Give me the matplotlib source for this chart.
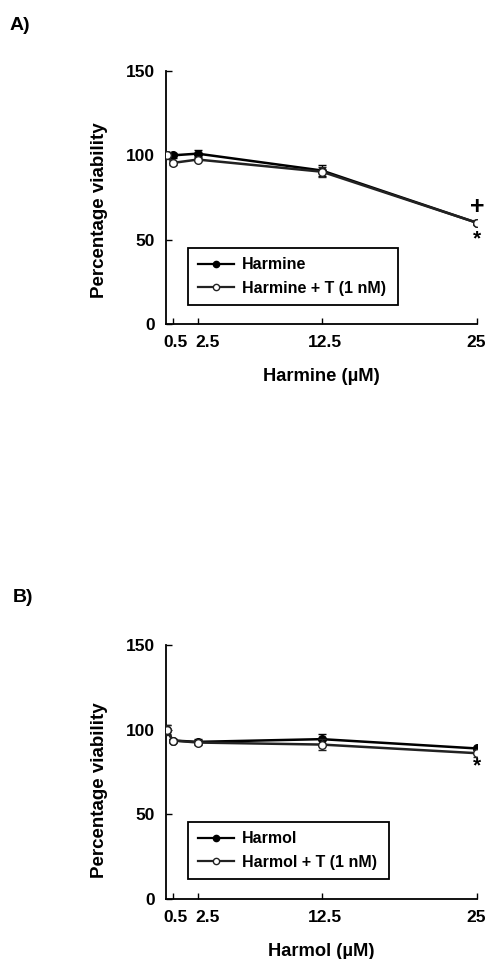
import matplotlib
matplotlib.use("Agg")
import matplotlib.pyplot as plt
from matplotlib.lines import Line2D
from matplotlib.transforms import ScaledTranslation

plt.rcParams['font.family'] = ['Liberation Sans', 'DejaVu Sans']
plt.rcParams['font.weight'] = 'bold'

conc = [0, 0.5, 2.5, 12.5, 25]
xticks = [0.5, 2.5, 12.5, 25]
xticklabels = ["0.5", "2.5", "12.5", "25"]
yticks = [0, 50, 100, 150]

harmine = [100, 100, 101, 91, 60]
harmine_err = [1.5, 1.5, 2.0, 3.0, 1.0]
harmine_t = [100, 95.5, 97.5, 90.3, 60]
harmine_t_err = [2.0, 1.0, 1.0, 3.0, 1.5]

harmol = [100, 93.6, 92.8, 94.4, 88.9]
harmol_err = [2.5, 1.0, 1.5, 3.0, 1.0]
harmol_t = [100, 93.6, 92.4, 91.2, 86.1]
harmol_t_err = [3.0, 1.0, 1.5, 3.0, 2.0]

W, H = 488, 959
fig = plt.figure(figsize=(W / 100, H / 100), dpi=100)
label_shift_px = [3, 10, 3, -1]

def make_ax(left, right, top, bottom):
    return fig.add_axes([left / W, 1 - bottom / H, (right - left) / W, (bottom - top) / H])

def panel(ax, y1, e1, y2, e2, name1, name2, xlabel, legend_box, marks, ylab_y):
    ax.errorbar(conc, y1, yerr=e1, color='black', marker='o', ms=5.5, mfc='black',
                mec='black', lw=1.8, capsize=3, elinewidth=1, zorder=3)
    ax.errorbar(conc, y2, yerr=e2, color='#222222', marker='o', ms=5.5, mfc='white',
                mec='#222222', lw=1.8, capsize=3, elinewidth=1, zorder=4)
    ax.set_xlim(-0.05, 25)
    ax.set_ylim(0, 150)
    ax.set_xticks(xticks)
    ax.set_xticklabels(xticklabels)
    ax.set_yticks(yticks)
    ax.tick_params(direction='in', length=4, width=1, labelsize=12.5, pad=8)
    for lab in ax.get_xticklabels() + ax.get_yticklabels():
        lab.set_fontweight('bold')
    for lab, dx in zip(ax.get_xticklabels(), label_shift_px):
        lab.set_transform(lab.get_transform() + ScaledTranslation(dx / 100, 0, fig.dpi_scale_trans))
    for s in ['top', 'right']:
        ax.spines[s].set_visible(False)
    for s in ['left', 'bottom']:
        ax.spines[s].set_linewidth(1.3)
    ax.set_ylabel('Percentage viability', fontsize=13.5, fontweight='bold')
    ax.yaxis.set_label_coords((108 - 166) / 311, ylab_y)
    ax.set_xlabel(xlabel, fontsize=13.2, fontweight='bold', labelpad=13)
    handles = [
        Line2D([], [], color='black', marker='o', ms=4.5, mfc='black', mec='black', lw=1.6),
        Line2D([], [], color='#222222', marker='o', ms=4.5, mfc='white', mec='#222222', lw=1.6),
    ]
    leg = ax.legend(handles, [name1, name2], loc='center left', bbox_to_anchor=legend_box,
                    mode='expand', fancybox=False, edgecolor='black', framealpha=1,
                    prop={'weight': 'bold', 'size': 11.5}, handlelength=2.3,
                    handletextpad=0.5, borderaxespad=0, borderpad=0.6, labelspacing=0.55)
    leg.get_frame().set_linewidth(1.3)
    for txt, yv, fs in marks:
        ax.text(25, yv, txt, ha='center', va='center', fontsize=fs, fontweight='bold')

axA = make_ax(166, 477, 71, 324)
bA = ((188 - 166) / 311, (324 - 307) / 253, (398 - 188) / 311, (307 - 246) / 253)
panel(axA, harmine, harmine_err, harmine_t, harmine_t_err, 'Harmine', 'Harmine + T (1 nM)',
      'Harmine (\u00b5M)', bA, [('+', 69.5, 18), ('*', 50.5, 15)], (324 - 210) / 253)

axB = make_ax(166, 477, 645, 899)
bB = ((188 - 166) / 311, (899 - 882) / 254, (389 - 188) / 311, (882 - 819) / 254)
panel(axB, harmol, harmol_err, harmol_t, harmol_t_err, 'Harmol', 'Harmol + T (1 nM)',
      'Harmol (\u00b5M)', bB, [('*', 78.5, 15)], (899 - 790) / 254)

fig.text(10 / W, 1 - 25 / H, 'A)', fontsize=14, fontweight='bold', va='center')
fig.text(13 / W, 1 - 598 / H, 'B)', fontsize=14, fontweight='bold', va='center')

fig.savefig('out.png', dpi=100, facecolor='white')
